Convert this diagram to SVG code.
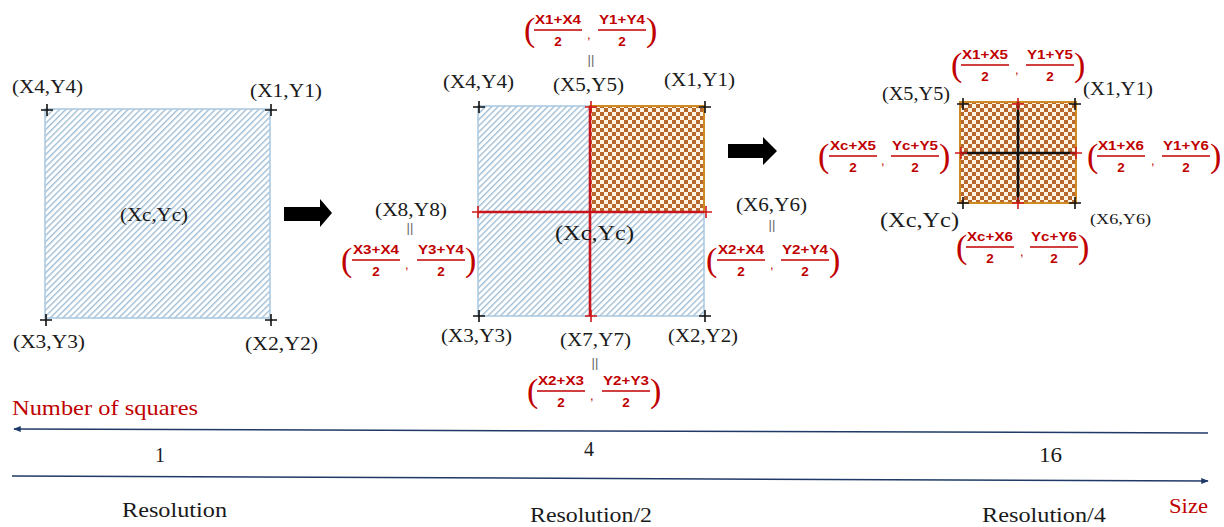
<svg xmlns="http://www.w3.org/2000/svg" xmlns:xlink="http://www.w3.org/1999/xlink" width="1224" height="527" viewBox="0 0 1224 527">
<defs>
<pattern id="hatch" width="4.4" height="10" patternUnits="userSpaceOnUse" patternTransform="rotate(45)">
<rect width="4.4" height="10" fill="#ffffff"/>
<rect width="1.4" height="10" fill="#a2bfd6"/>
</pattern>
<pattern id="check" width="8" height="8" patternUnits="userSpaceOnUse">
<rect width="8" height="8" fill="#fff3e4"/>
<rect width="4" height="4" fill="#b8672d"/>
<rect x="4" y="4" width="4" height="4" fill="#b8672d"/>
</pattern>
<path id="plus" d="M-6,0H6M0,-6V6"/>
<marker id="ah" viewBox="0 0 10 8" refX="9" refY="4" markerWidth="8" markerHeight="6" orient="auto-start-reverse" markerUnits="userSpaceOnUse">
<path d="M0,0L10,4L0,8z" fill="#1f3a68"/>
</marker>
</defs>
<style>
.lbl{font-family:"Liberation Serif","Times New Roman",serif;font-size:18px;fill:#1a1a1a}
.par{font-family:"Liberation Serif","Times New Roman",serif;font-size:34px;fill:#c00000}
.num{font-family:"Liberation Sans",Arial,sans-serif;font-weight:bold;font-size:13.5px;fill:#c00000}
.den{font-family:"Liberation Sans",Arial,sans-serif;font-weight:bold;font-size:13.5px;fill:#c00000;text-anchor:middle}
.cm{font-family:"Liberation Sans",Arial,sans-serif;font-size:13px;fill:#c00000}
.bar{stroke:#c00000;stroke-width:1.6}
.eq{font-family:"Liberation Sans",Arial,sans-serif;font-size:13px;fill:#666;text-anchor:middle}
.pk{stroke:#111;stroke-width:1.6;fill:none}
.pr{stroke:#d11a1a;stroke-width:1.6;fill:none}
.hs{fill:url(#hatch);stroke:#a9c7e0;stroke-width:1.5}
.cs{fill:url(#check);stroke:#cf8a22;stroke-width:2}
.tl{font-family:"Liberation Serif","Times New Roman",serif;font-size:20px;fill:#1a1a1a}
.red{fill:#c00000}
.axis{stroke:#1f3a68;stroke-width:1.5;fill:none}
</style>

<g id="square1">
<rect class="hs" x="45" y="109" width="225" height="209"/>
<use href="#plus" class="pk" x="47" y="110"/>
<use href="#plus" class="pk" x="271" y="110"/>
<use href="#plus" class="pk" x="46" y="320"/>
<use href="#plus" class="pk" x="271" y="320"/>
<text class="lbl" x="12" y="93" textLength="71" lengthAdjust="spacingAndGlyphs">(X4,Y4)</text>
<text class="lbl" x="250" y="97" textLength="72" lengthAdjust="spacingAndGlyphs">(X1,Y1)</text>
<text class="lbl" x="120" y="221" textLength="68" lengthAdjust="spacingAndGlyphs">(Xc,Yc)</text>
<text class="lbl" x="13" y="348" textLength="72" lengthAdjust="spacingAndGlyphs">(X3,Y3)</text>
<text class="lbl" x="245" y="350" textLength="73" lengthAdjust="spacingAndGlyphs">(X2,Y2)</text>
</g>

<g id="square2">
<rect class="hs" x="478" y="106" width="226" height="210"/>
<rect class="cs" x="590" y="106" width="114" height="106"/>
<line x1="590" y1="106" x2="590" y2="316" stroke="#c8141c" stroke-width="2.6"/>
<line x1="478" y1="212" x2="704" y2="212" stroke="#c8141c" stroke-width="2.6"/>
<use href="#plus" class="pk" x="479" y="107"/>
<use href="#plus" class="pk" x="705" y="107"/>
<use href="#plus" class="pk" x="479" y="316"/>
<use href="#plus" class="pk" x="705" y="316"/>
<use href="#plus" class="pr" x="591" y="107"/>
<use href="#plus" class="pr" x="478" y="212"/>
<use href="#plus" class="pr" x="706" y="212"/>
<use href="#plus" class="pr" x="591" y="316"/>
<text class="lbl" x="443" y="88" textLength="71" lengthAdjust="spacingAndGlyphs">(X4,Y4)</text>
<text class="lbl" x="553" y="91" textLength="71" lengthAdjust="spacingAndGlyphs">(X5,Y5)</text>
<text class="lbl" x="664" y="86" textLength="71" lengthAdjust="spacingAndGlyphs">(X1,Y1)</text>
<text class="lbl" x="375" y="216" textLength="72" lengthAdjust="spacingAndGlyphs">(X8,Y8)</text>
<text class="lbl" x="736" y="211" textLength="71" lengthAdjust="spacingAndGlyphs">(X6,Y6)</text>
<text class="lbl" x="555" y="240" style="font-size:22px" textLength="79" lengthAdjust="spacingAndGlyphs">(Xc,Yc)</text>
<text class="lbl" x="441" y="342" textLength="71" lengthAdjust="spacingAndGlyphs">(X3,Y3)</text>
<text class="lbl" x="560" y="346" textLength="71" lengthAdjust="spacingAndGlyphs">(X7,Y7)</text>
<text class="lbl" x="668" y="342" textLength="70" lengthAdjust="spacingAndGlyphs">(X2,Y2)</text>
<text class="eq" x="591" y="64">||</text>
<text class="eq" x="410" y="232">||</text>
<text class="eq" x="772" y="229">||</text>
<text class="eq" x="595" y="367">||</text>
</g>

<g id="frac-x5">
<text class="par" x="524" y="41">(</text>
<text class="num" x="535" y="24" textLength="46" lengthAdjust="spacingAndGlyphs">X1+X4</text>
<line class="bar" x1="534" y1="30" x2="582" y2="30"/>
<text class="den" x="558" y="46">2</text>
<text class="cm" x="587" y="39">,</text>
<text class="num" x="599" y="24" textLength="46" lengthAdjust="spacingAndGlyphs">Y1+Y4</text>
<line class="bar" x1="598" y1="30" x2="646" y2="30"/>
<text class="den" x="622" y="46">2</text>
<text class="par" x="646" y="41">)</text>
</g>

<g id="frac-x8">
<text class="par" x="341" y="271">(</text>
<text class="num" x="353" y="254" textLength="46" lengthAdjust="spacingAndGlyphs">X3+X4</text>
<line class="bar" x1="352" y1="260" x2="400" y2="260"/>
<text class="den" x="376" y="276">2</text>
<text class="cm" x="405" y="269">,</text>
<text class="num" x="418" y="254" textLength="46" lengthAdjust="spacingAndGlyphs">Y3+Y4</text>
<line class="bar" x1="417" y1="260" x2="465" y2="260"/>
<text class="den" x="441" y="276">2</text>
<text class="par" x="465" y="271">)</text>
</g>

<g id="frac-x6">
<text class="par" x="706" y="271">(</text>
<text class="num" x="718" y="254" textLength="46" lengthAdjust="spacingAndGlyphs">X2+X4</text>
<line class="bar" x1="717" y1="260" x2="765" y2="260"/>
<text class="den" x="741" y="276">2</text>
<text class="cm" x="770" y="269">,</text>
<text class="num" x="782" y="254" textLength="46" lengthAdjust="spacingAndGlyphs">Y2+Y4</text>
<line class="bar" x1="781" y1="260" x2="829" y2="260"/>
<text class="den" x="805" y="276">2</text>
<text class="par" x="829" y="271">)</text>
</g>

<g id="frac-x7">
<text class="par" x="527" y="402">(</text>
<text class="num" x="538" y="385" textLength="46" lengthAdjust="spacingAndGlyphs">X2+X3</text>
<line class="bar" x1="537" y1="391" x2="585" y2="391"/>
<text class="den" x="561" y="407">2</text>
<text class="cm" x="590" y="400">,</text>
<text class="num" x="603" y="385" textLength="46" lengthAdjust="spacingAndGlyphs">Y2+Y3</text>
<line class="bar" x1="602" y1="391" x2="650" y2="391"/>
<text class="den" x="626" y="407">2</text>
<text class="par" x="650" y="402">)</text>
</g>

<g id="square3">
<rect class="cs" x="960" y="102" width="116" height="101"/>
<line x1="1018" y1="102" x2="1018" y2="203" stroke="#111" stroke-width="2.6"/>
<line x1="960" y1="153" x2="1076" y2="153" stroke="#111" stroke-width="2.6"/>
<use href="#plus" class="pk" x="963" y="104"/>
<use href="#plus" class="pk" x="1075" y="104"/>
<use href="#plus" class="pk" x="963" y="203"/>
<use href="#plus" class="pk" x="1075" y="203"/>
<use href="#plus" class="pr" x="1018" y="104"/>
<use href="#plus" class="pr" x="961" y="153"/>
<use href="#plus" class="pr" x="1076" y="153"/>
<use href="#plus" class="pr" x="1018" y="203"/>
<text class="lbl" x="882" y="100" textLength="68" lengthAdjust="spacingAndGlyphs">(X5,Y5)</text>
<text class="lbl" x="1083" y="95" style="font-size:19px" textLength="70" lengthAdjust="spacingAndGlyphs">(X1,Y1)</text>
<text class="lbl" x="880" y="227" style="font-size:22px" textLength="79" lengthAdjust="spacingAndGlyphs">(Xc,Yc)</text>
<text class="lbl" x="1090" y="224" style="font-size:15px" textLength="61" lengthAdjust="spacingAndGlyphs">(X6,Y6)</text>
</g>

<g id="frac-s3-top">
<text class="par" x="951" y="76">(</text>
<text class="num" x="962" y="59" textLength="46" lengthAdjust="spacingAndGlyphs">X1+X5</text>
<line class="bar" x1="961" y1="65" x2="1009" y2="65"/>
<text class="den" x="985" y="81">2</text>
<text class="cm" x="1015" y="74">,</text>
<text class="num" x="1027" y="59" textLength="46" lengthAdjust="spacingAndGlyphs">Y1+Y5</text>
<line class="bar" x1="1026" y1="65" x2="1074" y2="65"/>
<text class="den" x="1050" y="81">2</text>
<text class="par" x="1074" y="76">)</text>
</g>

<g id="frac-s3-left">
<text class="par" x="818" y="167">(</text>
<text class="num" x="830" y="150" textLength="46" lengthAdjust="spacingAndGlyphs">Xc+X5</text>
<line class="bar" x1="829" y1="156" x2="877" y2="156"/>
<text class="den" x="853" y="172">2</text>
<text class="cm" x="881" y="165">,</text>
<text class="num" x="892" y="150" textLength="46" lengthAdjust="spacingAndGlyphs">Yc+Y5</text>
<line class="bar" x1="891" y1="156" x2="939" y2="156"/>
<text class="den" x="915" y="172">2</text>
<text class="par" x="939" y="167">)</text>
</g>

<g id="frac-s3-right">
<text class="par" x="1087" y="167">(</text>
<text class="num" x="1098" y="150" textLength="46" lengthAdjust="spacingAndGlyphs">X1+X6</text>
<line class="bar" x1="1097" y1="156" x2="1145" y2="156"/>
<text class="den" x="1121" y="172">2</text>
<text class="cm" x="1151" y="165">,</text>
<text class="num" x="1163" y="150" textLength="46" lengthAdjust="spacingAndGlyphs">Y1+Y6</text>
<line class="bar" x1="1162" y1="156" x2="1210" y2="156"/>
<text class="den" x="1186" y="172">2</text>
<text class="par" x="1210" y="167">)</text>
</g>

<g id="frac-s3-bottom">
<text class="par" x="956" y="258">(</text>
<text class="num" x="967" y="241" textLength="46" lengthAdjust="spacingAndGlyphs">Xc+X6</text>
<line class="bar" x1="966" y1="247" x2="1014" y2="247"/>
<text class="den" x="990" y="263">2</text>
<text class="cm" x="1020" y="256">,</text>
<text class="num" x="1031" y="241" textLength="46" lengthAdjust="spacingAndGlyphs">Yc+Y6</text>
<line class="bar" x1="1030" y1="247" x2="1078" y2="247"/>
<text class="den" x="1054" y="263">2</text>
<text class="par" x="1078" y="258">)</text>
</g>

<g id="connectors">
<path d="M284,207H320V199L332,213L320,227V221H284Z" fill="#000"/>
<path d="M728,144H763V137L777,151L763,165V158H728Z" fill="#000"/>
</g>

<g id="timeline">
<text class="tl red" x="12" y="415" style="font-size:22px" textLength="186" lengthAdjust="spacingAndGlyphs">Number of squares</text>
<line class="axis" x1="1208" y1="433" x2="14" y2="429" marker-end="url(#ah)"/>
<text class="tl" x="155" y="462">1</text>
<text class="tl" x="584" y="456">4</text>
<text class="tl" x="1039" y="462" textLength="23" lengthAdjust="spacingAndGlyphs">16</text>
<line class="axis" x1="12" y1="476" x2="1208" y2="481" marker-end="url(#ah)"/>
<text class="tl" x="122" y="517" textLength="105" lengthAdjust="spacingAndGlyphs">Resolution</text>
<text class="tl" x="530" y="522" textLength="122" lengthAdjust="spacingAndGlyphs">Resolution/2</text>
<text class="tl" x="982" y="522" textLength="124" lengthAdjust="spacingAndGlyphs">Resolution/4</text>
<text class="tl red" x="1169" y="513" textLength="39" lengthAdjust="spacingAndGlyphs">Size</text>
</g>
</svg>
